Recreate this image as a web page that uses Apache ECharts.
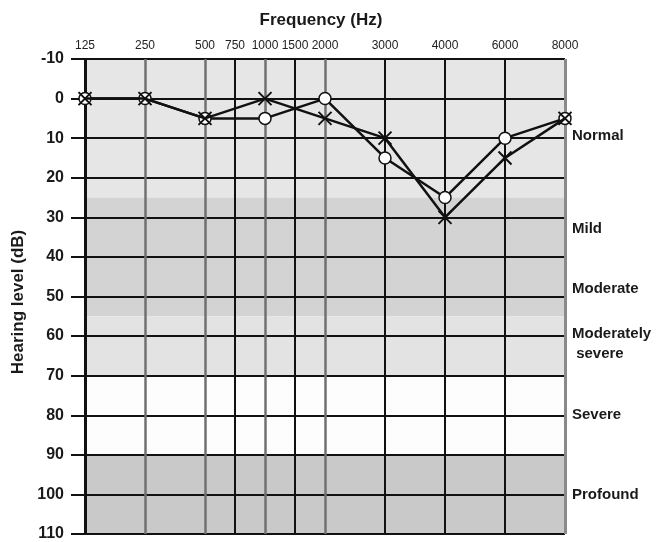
<!DOCTYPE html>
<html>
<head>
<meta charset="utf-8">
<script src="https://cdn.jsdelivr.net/npm/echarts@6/dist/echarts.min.js"></script>
<style>html,body{margin:0;padding:0;background:#fff}#c{width:660px;height:542px}</style>
</head>
<body>
<div id="c"></div>
<script>
// ---- data ----
const freqTicks = ['125','250','500','750','1000','1500','2000','3000','4000','6000','8000'];
const tickPos   = [0, 1, 2, 2.5, 3, 3.5, 4, 5, 6, 7, 8];
const testedFreqs  = ['125','250','500','1000','2000','3000','4000','6000','8000'];
const crossLevels  = [0, 0, 5, 0, 5, 10, 30, 15, 5];
const circleLevels = [0, 0, 5, 5, 0, 15, 25, 10, 5];
const bandEdges = [[-10, 25], [25, 55], [55, 70], [70, 90], [90, 110]];
const bandNames = ['Normal', 'Mild', 'Moderate', 'Moderately\n severe', 'Severe', 'Profound'];
const bandLabelLevels = [9.5, 33, 48, 62, 80, 100];
const yMin = -10, yMax = 110, yStep = 10;

// ---- styles ----
const bandColors = ['#e6e6e6', '#d3d3d3', '#e3e3e3', '#fdfdfd', '#c9c9c9'];
const grayLines = ['250', '500', '1000', '2000', '8000'];
const FONT = '"Liberation Sans", Arial, sans-serif';

const posOf = f => tickPos[freqTicks.indexOf(f)];
const crossData = testedFreqs.map((f, i) => [posOf(f), crossLevels[i]]);
const circleData = testedFreqs.map((f, i) => [posOf(f), circleLevels[i]]);

const chart = echarts.init(document.getElementById('c'), null, {renderer: 'canvas'});
const option = {
  animation: false,
  backgroundColor: '#ffffff',
  grid: {left: 85, right: 95, top: 59, bottom: 4},
  xAxis: {
    type: 'value', position: 'top', min: 0, max: 8, interval: 0.5,
    axisLine: {show: false}, axisTick: {show: false}, splitLine: {show: false},
    axisLabel: {
      margin: 7, fontSize: 12, color: '#222', fontFamily: FONT,
      formatter: v => { const i = tickPos.indexOf(v); return i >= 0 ? freqTicks[i] : ''; }
    }
  },
  yAxis: {
    type: 'value', inverse: true, min: yMin, max: yMax, interval: yStep, z: 3,
    axisLine: {show: false},
    axisTick: {show: true, length: 14, lineStyle: {color: '#111', width: 2}},
    axisLabel: {margin: 21, fontSize: 16, fontWeight: 'bold', color: '#1a1a1a', fontFamily: FONT},
    splitLine: {show: true, lineStyle: {color: '#111', width: 2}}
  },
  series: [
    {
      type: 'line', data: [], z: 1, silent: true,
      markArea: {
        silent: true,
        data: bandEdges.map((b, i) => [{yAxis: b[0], itemStyle: {color: bandColors[i]}}, {yAxis: b[1]}])
      }
    },
    {
      type: 'line', data: [], z: 4, silent: true,
      markLine: {
        silent: true, symbol: 'none', label: {show: false},
        data: freqTicks.map((f, i) => ({
          xAxis: tickPos[i],
          lineStyle: grayLines.includes(f)
            ? {color: i === freqTicks.length - 1 ? '#8a8a8a' : '#707070', width: i === freqTicks.length - 1 ? 3 : 2.5, type: 'solid'}
            : {color: '#111', width: i === 0 ? 3 : 2, type: 'solid'}
        }))
      }
    },
    {
      name: 'circle', type: 'line', data: circleData, z: 6,
      symbol: 'circle', symbolSize: 12, showAllSymbol: true,
      lineStyle: {color: '#111', width: 2.5},
      itemStyle: {color: '#ffffff', borderColor: '#111', borderWidth: 1.5}
    },
    {
      name: 'cross', type: 'line', data: crossData, z: 7,
      symbol: 'path://M0,0L10,10M10,0L0,10', symbolSize: 13, showAllSymbol: true,
      lineStyle: {color: '#111', width: 2.5},
      itemStyle: {color: 'none', borderColor: '#111', borderWidth: 2}
    }
  ]
};
chart.setOption(option);

const labelX = 572;
const graphics = [
  {type: 'text', x: 321, y: 20, style: {text: 'Frequency (Hz)', font: 'bold 17px ' + FONT, fill: '#1a1a1a', textAlign: 'center', textVerticalAlign: 'middle'}},
  {type: 'text', x: 18, y: 302, rotation: Math.PI / 2, style: {text: 'Hearing level (dB)', font: 'bold 17px ' + FONT, fill: '#1a1a1a', textAlign: 'center', textVerticalAlign: 'middle'}}
];
bandNames.forEach((n, i) => {
  const y = chart.convertToPixel({yAxisIndex: 0}, bandLabelLevels[i]);
  graphics.push({type: 'text', x: labelX, y: y, style: {text: n, font: 'bold 15px ' + FONT, fill: '#1a1a1a', textAlign: 'left', textVerticalAlign: 'middle', lineHeight: 20}});
});
chart.setOption({graphic: graphics});
</script>
</body>
</html>
